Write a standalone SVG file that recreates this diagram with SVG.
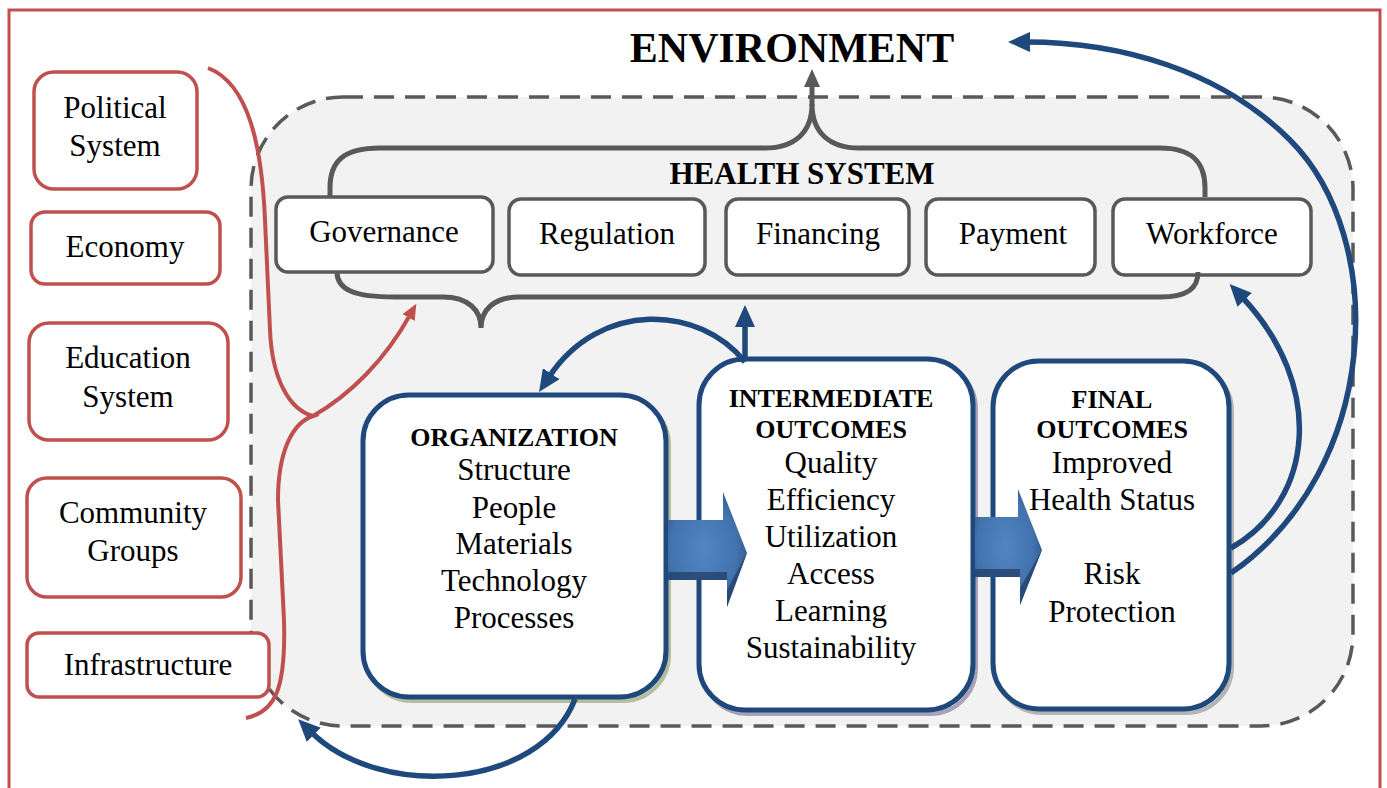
<svg xmlns="http://www.w3.org/2000/svg" width="1387" height="788" viewBox="0 0 1387 788">
  <style>
    .t { font-family: "Liberation Serif", "Times New Roman", serif; font-size: 31px; fill: #000; text-anchor: middle; }
    .tb { font-family: "Liberation Serif", "Times New Roman", serif; font-size: 26px; font-weight: bold; fill: #000; text-anchor: middle; }
    .red-box { fill: #fff; stroke: #c0504d; stroke-width: 3.5; }
    .hs-box { fill: #fff; stroke: #595959; stroke-width: 3.5; }
    .blue-box { fill: #fff; stroke: #1f497d; stroke-width: 5; }
    .blue-line { fill: none; stroke: #1f497d; stroke-width: 5.5; }
    .red-line { fill: none; stroke: #c0504d; stroke-width: 4; }
    .gray-line { fill: none; stroke: #595959; stroke-width: 5; }
  </style>
  <defs>
    <marker id="ah-blue" viewBox="0 0 22 20" markerWidth="22" markerHeight="20" refX="4" refY="10" orient="auto" markerUnits="userSpaceOnUse">
      <path d="M0,0 L22,10 L0,20 Z" fill="#1f497d"/>
    </marker>
    <marker id="ah-red" viewBox="0 0 16 14" markerWidth="16" markerHeight="14" refX="3" refY="7" orient="auto" markerUnits="userSpaceOnUse">
      <path d="M0,0 L16,7 L0,14 Z" fill="#c0504d"/>
    </marker>
    <marker id="ah-gray" viewBox="0 0 18 16" markerWidth="18" markerHeight="16" refX="3" refY="8" orient="auto" markerUnits="userSpaceOnUse">
      <path d="M0,0 L18,8 L0,16 Z" fill="#595959"/>
    </marker>
    <radialGradient id="blockFill" cx="0.45" cy="0.5" r="0.6">
      <stop offset="0" stop-color="#5285c2"/>
      <stop offset="0.7" stop-color="#4273ad"/>
      <stop offset="1" stop-color="#2e5889"/>
    </radialGradient>
  </defs>

  <!-- outer environment frame -->
  <rect x="9" y="10" width="1371" height="800" fill="none" stroke="#c0504d" stroke-width="3"/>

  <!-- health system boundary -->
  <rect id="health-system-area" x="251" y="97" width="1102" height="629" rx="92" ry="92" fill="#f2f2f2" stroke="#595959" stroke-width="3.5" stroke-dasharray="20 11"/>

  <text class="t" x="792" y="62" style="font-size:42px;font-weight:bold">ENVIRONMENT</text>
  <text class="t" x="802" y="184" style="font-weight:bold">HEALTH SYSTEM</text>

  <!-- environment factors -->
  <g id="political-system">
    <rect class="red-box" x="34" y="72" width="163" height="117" rx="20"/>
    <text class="t" x="115" y="118">Political</text>
    <text class="t" x="115" y="156">System</text>
  </g>
  <g id="economy">
    <rect class="red-box" x="31" y="212" width="189" height="72" rx="14"/>
    <text class="t" x="125" y="257">Economy</text>
  </g>
  <g id="education-system">
    <rect class="red-box" x="29" y="323" width="199" height="117" rx="20"/>
    <text class="t" x="128" y="368">Education</text>
    <text class="t" x="128" y="407">System</text>
  </g>
  <g id="community-groups">
    <rect class="red-box" x="27" y="478" width="214" height="119" rx="20"/>
    <text class="t" x="133" y="523">Community</text>
    <text class="t" x="133" y="561">Groups</text>
  </g>
  <g id="infrastructure">
    <rect class="red-box" x="27" y="633" width="242" height="64" rx="12"/>
    <text class="t" x="148" y="675">Infrastructure</text>
  </g>

  <!-- health system functions -->
  <g id="governance">
    <rect class="hs-box" x="276" y="197" width="217" height="75" rx="12"/>
    <text class="t" x="384" y="242">Governance</text>
  </g>
  <g id="regulation">
    <rect class="hs-box" x="509" y="199" width="196" height="76" rx="12"/>
    <text class="t" x="607" y="244">Regulation</text>
  </g>
  <g id="financing">
    <rect class="hs-box" x="726" y="199" width="183" height="76" rx="12"/>
    <text class="t" x="818" y="244">Financing</text>
  </g>
  <g id="payment">
    <rect class="hs-box" x="926" y="199" width="169" height="76" rx="12"/>
    <text class="t" x="1013" y="244">Payment</text>
  </g>
  <g id="workforce">
    <rect class="hs-box" x="1113" y="199" width="198" height="76" rx="12"/>
    <text class="t" x="1212" y="244">Workforce</text>
  </g>

  <!-- outcome chain -->
  <g id="organization">
    <rect x="366" y="399" width="303" height="302" rx="46" fill="none" stroke="#9aa77a" stroke-width="4" opacity="0.7"/>
    <rect class="blue-box" x="363" y="395" width="303" height="302" rx="46"/>
    <text class="tb" x="514" y="446">ORGANIZATION</text>
    <text class="t" x="514" y="480">Structure</text>
    <text class="t" x="514" y="518">People</text>
    <text class="t" x="514" y="554">Materials</text>
    <text class="t" x="514" y="591">Technology</text>
    <text class="t" x="514" y="628">Processes</text>
  </g>
  <g id="intermediate-outcomes">
    <rect x="702" y="363" width="274" height="351" rx="46" fill="none" stroke="#8a7fa0" stroke-width="4" opacity="0.7"/>
    <rect class="blue-box" x="699" y="359" width="274" height="351" rx="46"/>
    <text class="tb" x="831" y="407">INTERMEDIATE</text>
    <text class="tb" x="831" y="438">OUTCOMES</text>
    <text class="t" x="831" y="473">Quality</text>
    <text class="t" x="831" y="510">Efficiency</text>
    <text class="t" x="831" y="547">Utilization</text>
    <text class="t" x="831" y="584">Access</text>
    <text class="t" x="831" y="621">Learning</text>
    <text class="t" x="831" y="658">Sustainability</text>
  </g>
  <g id="final-outcomes">
    <rect x="996" y="365" width="236" height="348" rx="46" fill="none" stroke="#9a9a9a" stroke-width="4" opacity="0.7"/>
    <rect class="blue-box" x="993" y="361" width="236" height="348" rx="46"/>
    <text class="tb" x="1112" y="408">FINAL</text>
    <text class="tb" x="1112" y="438">OUTCOMES</text>
    <text class="t" x="1112" y="473">Improved</text>
    <text class="t" x="1112" y="510">Health Status</text>
    <text class="t" x="1112" y="584">Risk</text>
    <text class="t" x="1112" y="622">Protection</text>
  </g>

  <g id="connectors">
    <!-- braces grouping the health system functions -->
    <path class="gray-line" d="M330 197 L330 188 C330 160 345 148 380 148 L765 148 C795 148 812 132 812 104 C812 132 829 148 859 148 L1160 148 C1192 148 1205 162 1205 188 L1205 197"/>
    <path class="gray-line" d="M812 106 L812 84" marker-end="url(#ah-gray)"/>
    <path class="gray-line" d="M337 272 C337 290 355 297 395 297 L443 297 C468 297 481 310 481 328 C481 310 494 297 519 297 L1160 297 C1188 297 1198 288 1198 272"/>

    <!-- environment brace and its influence arrow -->
    <path class="red-line" d="M208 68 C250 84 262 150 265 220 L270 330 C272 380 290 410 313 416 C292 423 278 452 278 500 L284 620 C286 690 275 712 246 718"/>
    <path class="red-line" d="M313 416 C350 395 385 360 410 315" marker-end="url(#ah-red)"/>

    <!-- block arrows along the chain -->
    <path d="M668 520 L723 520 L723 492 L747 553 L727 607 L727 580 L668 580 Z" fill="url(#blockFill)"/>
    <path d="M668 572 L727 572 L727 580 L668 580 Z" fill="#24426b" opacity="0.8"/>
    <path d="M747 553 L727 607 L727 590 Z" fill="#24426b" opacity="0.8"/>
    <path d="M975 517 L1018 517 L1018 489 L1042 550 L1020 605 L1020 577 L975 577 Z" fill="url(#blockFill)"/>
    <path d="M975 569 L1020 569 L1020 577 L975 577 Z" fill="#24426b" opacity="0.8"/>
    <path d="M1042 550 L1020 605 L1020 588 Z" fill="#24426b" opacity="0.8"/>

    <!-- feedback arrows -->
    <path class="blue-line" d="M745 360 L745 323" marker-end="url(#ah-blue)"/>
    <path class="blue-line" d="M745 362 C700 305 600 300 549 377" marker-end="url(#ah-blue)"/>
    <path class="blue-line" d="M575 699 C540 790 380 800 311 732" marker-end="url(#ah-blue)"/>
    <path class="blue-line" d="M1231 548 C1315 500 1325 385 1242 297" marker-end="url(#ah-blue)"/>
    <path class="blue-line" d="M1231 573 C1380 470 1390 240 1290 140 C1220 70 1120 42 1026 42" marker-end="url(#ah-blue)"/>
  </g>
</svg>
